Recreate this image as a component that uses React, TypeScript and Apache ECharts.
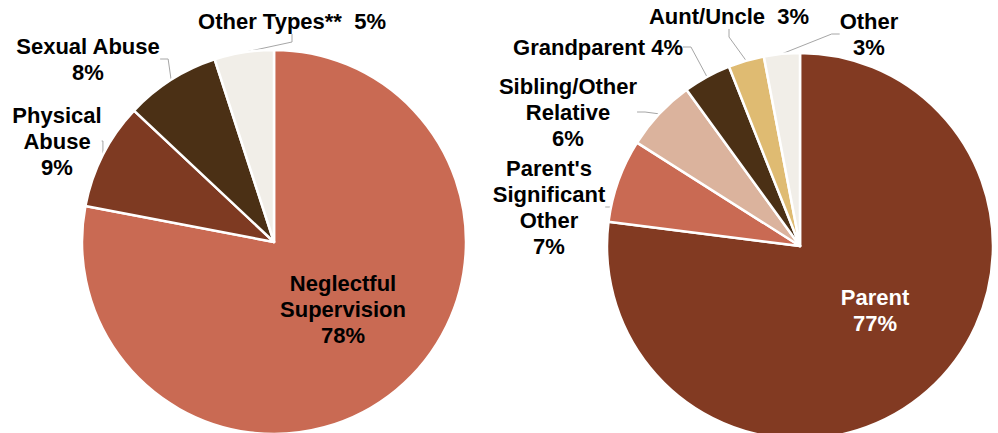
import React, { useEffect, useRef } from "react";
import * as echarts from "echarts";

// ---- Data ----
const leftNames = ["Neglectful Supervision", "Physical Abuse", "Sexual Abuse", "Other Types**"];
const leftValues = [78, 9, 8, 5];
const leftLabels = [
  "Neglectful\nSupervision\n78%",
  "Physical\nAbuse\n9%",
  "Sexual Abuse\n8%",
  "Other Types**  5%",
];

const rightNames = ["Parent", "Parent's Significant Other", "Sibling/Other Relative", "Grandparent", "Aunt/Uncle", "Other"];
const rightValues = [77, 7, 6, 4, 3, 3];
const rightLabels = [
  "Parent\n77%",
  "Parent's\nSignificant\nOther\n7%",
  "Sibling/Other\nRelative\n6%",
  "Grandparent 4%",
  "Aunt/Uncle  3%",
  "Other\n3%",
];

// ---- Styling / layout ----
const leftColors = ["#C96A53", "#7E3A22", "#4B3015", "#F1EEE8"];
const rightColors = ["#823A22", "#C96A53", "#DBB39D", "#4B3015", "#DFBB72", "#F1EEE8"];
const leftLabelPos: [number, number][] = [
  [343, 309],
  [57, 141],
  [88, 59],
  [292, 21],
];
const rightLabelPos: [number, number][] = [
  [875, 310],
  [549, 207],
  [568, 112],
  [598, 47],
  [729, 16],
  [869, 34],
];

const FONT = "'Liberation Sans', Arial, sans-serif";

function buildSeries(
  names: string[],
  values: number[],
  labels: string[],
  colors: string[],
  pos: [number, number][],
  center: [number, number],
  radius: number,
  insideColor: string
) {
  return {
    type: "pie",
    center,
    radius,
    startAngle: 90,
    clockwise: true,
    avoidLabelOverlap: false,
    itemStyle: { borderColor: "#ffffff", borderWidth: 2.5 },
    label: {
      show: true,
      position: "outside",
      fontFamily: FONT,
      fontWeight: "bold",
      fontSize: 22,
      lineHeight: 26,
      color: "#000000",
      formatter: (p: any) => labels[p.dataIndex],
    },
    labelLine: {
      show: true,
      length: 10,
      length2: 8,
      lineStyle: { color: "#A6A6A6", width: 1 },
    },
    labelLayout: (p: any) => ({
      x: pos[p.dataIndex][0],
      y: pos[p.dataIndex][1],
      align: "center",
      verticalAlign: "middle",
    }),
    emphasis: { disabled: true },
    data: names.map((n, i) => ({
      name: n,
      value: values[i],
      itemStyle: { color: colors[i] },
      ...(i === 0
        ? {
            label: { position: "inside", color: insideColor },
            labelLine: { show: false },
          }
        : {}),
    })),
  };
}

export default function App() {
  const ref = useRef<HTMLDivElement>(null);
  useEffect(() => {
    if (!ref.current) return;
    const chart = echarts.init(ref.current, undefined, { renderer: "svg" });
    chart.setOption({
      animation: false,
      backgroundColor: "#ffffff",
      series: [
        buildSeries(leftNames, leftValues, leftLabels, leftColors, leftLabelPos, [274, 242], 192, "#000000"),
        buildSeries(rightNames, rightValues, rightLabels, rightColors, rightLabelPos, [800, 246], 193, "#ffffff"),
      ],
    });
    return () => chart.dispose();
  }, []);
  return (
    <div
      ref={ref}
      style={{ position: "absolute", left: 0, top: 0, width: 998, height: 433 }}
    />
  );
}
